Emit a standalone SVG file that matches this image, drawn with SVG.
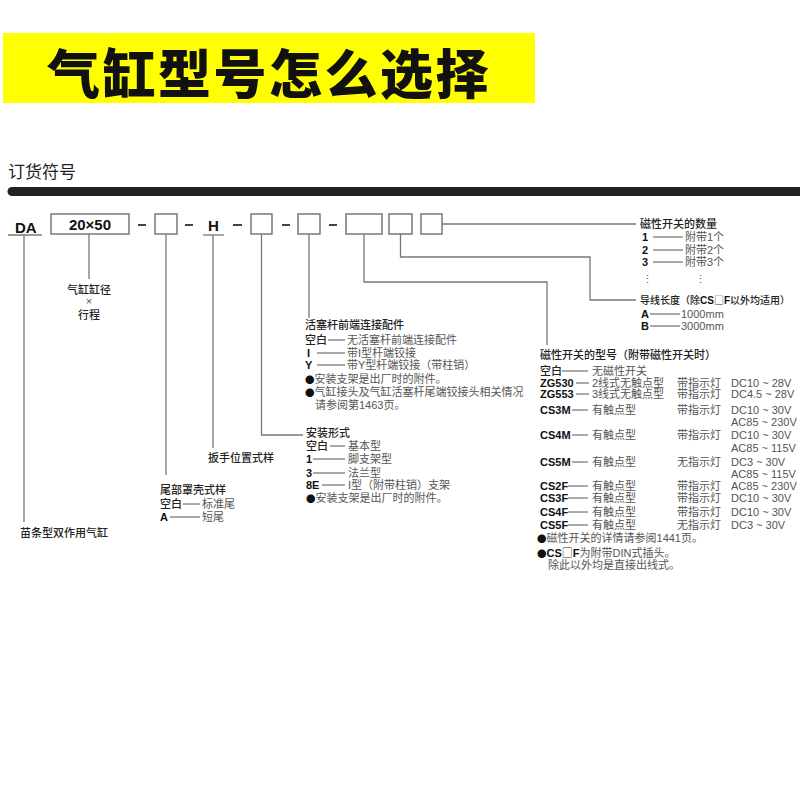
<svg xmlns="http://www.w3.org/2000/svg" width="800" height="800" viewBox="0 0 800 800">
<style>
text{font-family:"Liberation Sans","Noto Sans CJK SC",sans-serif;}
.lb{font-size:11px;fill:#222;font-weight:500;}
.vl{font-size:11px;fill:#555;}
.b{font-weight:bold;fill:#111;}
.sq{font-family:"Noto Sans CJK SC",sans-serif;font-weight:normal;fill:#333;}
.dot{font-family:"Noto Sans CJK SC",sans-serif;fill:#111;font-size:9.5px;}
.bx{fill:#fff;stroke:#777;stroke-width:1.5;}
.ln{fill:none;stroke:#777;stroke-width:1.3;}
.ds{stroke:#555;stroke-width:1;}
.hd{stroke:#444;stroke-width:2;}
.big{font-size:15px;font-weight:bold;fill:#111;}
</style>
<rect x="3" y="33" width="532" height="70" fill="#ffff00"/>
<text x="47" y="94" font-size="53" font-weight="900" letter-spacing="2.5" fill="#111" style="font-family:'Noto Sans CJK SC',sans-serif">气缸型号怎么选择</text>
<text x="8" y="178" font-size="17" fill="#222" style="font-family:'Noto Sans CJK SC',sans-serif">订货符号</text>
<line x1="12" y1="191.5" x2="805" y2="191.5" stroke="#222" stroke-width="9" stroke-linecap="round"/>

<g id="connectors">
<path class="ln" d="M24,235 V522"/>
<path class="ln" d="M89,234 V279"/>
<path class="ln" d="M166,234 V475"/>
<path class="ln" d="M213,235 V448"/>
<path class="ln" d="M261.5,234 V435 H303"/>
<path class="ln" d="M309,234 V318"/>
<path class="ln" d="M364,234 V282 H547 V345"/>
<path class="ln" d="M400.5,234 V257 H590 V300 H636"/>
<path class="ln" d="M442,224 H636"/>
</g>

<g id="code-row">
<text x="15" y="233" class="big">DA</text>
<line x1="8" y1="235" x2="42" y2="235" class="ln"/>
<rect x="51" y="214" width="78" height="20" class="bx"/>
<text x="90" y="230" class="big" text-anchor="middle">20×50</text>
<line x1="138" y1="225" x2="146" y2="225" class="hd"/>
<rect x="155" y="214" width="22" height="20" class="bx"/>
<line x1="185" y1="225" x2="193" y2="225" class="hd"/>
<text x="213.5" y="231" class="big" text-anchor="middle">H</text>
<line x1="203" y1="235" x2="224" y2="235" class="ln"/>
<line x1="233" y1="225" x2="242" y2="225" class="hd"/>
<rect x="251" y="214" width="21" height="20" class="bx"/>
<line x1="282" y1="225" x2="290" y2="225" class="hd"/>
<rect x="298" y="214" width="22" height="20" class="bx"/>
<line x1="329" y1="225" x2="337" y2="225" class="hd"/>
<rect x="346" y="214" width="36" height="20" class="bx"/>
<rect x="389" y="214" width="23" height="20" class="bx"/>
<rect x="421" y="214" width="21" height="20" class="bx"/>
</g>

<g id="bore-stroke">
<text x="89" y="294" class="lb" text-anchor="middle">气缸缸径</text>
<text x="89" y="305" class="vl" text-anchor="middle" font-size="9">×</text>
<text x="89" y="319" class="lb" text-anchor="middle">行程</text>
</g>

<g id="type">
<text x="20" y="537" class="lb">苗条型双作用气缸</text>
</g>

<g id="tail-cover">
<text x="160" y="494" class="lb">尾部罩壳式样</text>
<text x="160" y="508" class="lb">空白</text>
<line x1="183" y1="504" x2="200" y2="504" class="ds"/>
<text x="202" y="508" class="vl">标准尾</text>
<text x="160" y="521" class="lb b">A</text>
<line x1="170" y1="517" x2="200" y2="517" class="ds"/>
<text x="202" y="521" class="vl">短尾</text>
</g>

<g id="wrench">
<text x="208" y="462" class="lb">扳手位置式样</text>
</g>

<g id="mounting">
<text x="306" y="437" class="lb">安装形式</text>
<text x="306" y="450" class="lb">空白</text>
<line x1="330" y1="446" x2="345" y2="446" class="ds"/>
<text x="348" y="450" class="vl">基本型</text>
<text x="306" y="463" class="lb b">1</text>
<line x1="313" y1="459" x2="345" y2="459" class="ds"/>
<text x="348" y="463" class="vl">脚支架型</text>
<text x="306" y="477" class="lb b">3</text>
<line x1="313" y1="473" x2="345" y2="473" class="ds"/>
<text x="348" y="477" class="vl">法兰型</text>
<text x="306" y="489" class="lb b">8E</text>
<line x1="322" y1="485" x2="345" y2="485" class="ds"/>
<text x="348" y="489" class="vl">I型（附带柱销）支架</text>
<text x="306" y="502" class="vl"><tspan class="dot">●</tspan>安装支架是出厂时的附件。</text>
</g>

<g id="rod-end">
<text x="305" y="329" class="lb">活塞杆前端连接配件</text>
<text x="305" y="344" class="lb">空白</text>
<line x1="328" y1="340" x2="345" y2="340" class="ds"/>
<text x="347" y="344" class="vl">无活塞杆前端连接配件</text>
<text x="307" y="357" class="lb b">I</text>
<line x1="317" y1="353" x2="345" y2="353" class="ds"/>
<text x="347" y="357" class="vl">带I型杆端铰接</text>
<text x="305" y="369" class="lb b">Y</text>
<line x1="317" y1="365" x2="345" y2="365" class="ds"/>
<text x="347" y="369" class="vl">带Y型杆端铰接（带柱销）</text>
<text x="305" y="382.5" class="vl"><tspan class="dot">●</tspan>安装支架是出厂时的附件。</text>
<text x="305" y="396" class="vl"><tspan class="dot">●</tspan>气缸接头及气缸活塞杆尾端铰接头相关情况</text>
<text x="315" y="409" class="vl">请参阅第1463页。</text>
</g>

<g id="switch-qty">
<text x="640" y="228" class="lb">磁性开关的数量</text>
<text x="642" y="241" class="lb b">1</text>
<line x1="653" y1="237" x2="683" y2="237" class="ds"/>
<text x="685" y="241" class="vl">附带1个</text>
<text x="642" y="254" class="lb b">2</text>
<line x1="653" y1="250" x2="683" y2="250" class="ds"/>
<text x="685" y="254" class="vl">附带2个</text>
<text x="642" y="266" class="lb b">3</text>
<line x1="653" y1="262" x2="683" y2="262" class="ds"/>
<text x="685" y="266" class="vl">附带3个</text>
<text x="642" y="283" class="vl">⋮</text>
<text x="695" y="283" class="vl">⋮</text>
</g>

<g id="lead-length">
<text x="640" y="304" class="lb" style="font-size:10px">导线长度（除<tspan class="b">CS</tspan><tspan class="sq">□</tspan><tspan class="b">F</tspan>以外均适用）</text>
<text x="641" y="318" class="lb b">A</text>
<line x1="650" y1="314" x2="680" y2="314" class="ds"/>
<text x="681" y="318" class="vl">1000mm</text>
<text x="641" y="330" class="lb b">B</text>
<line x1="650" y1="326" x2="680" y2="326" class="ds"/>
<text x="681" y="330" class="vl">3000mm</text>
</g>

<g id="switch-type">
<text x="540" y="359" class="lb">磁性开关的型号（附带磁性开关时）</text>
<text x="540" y="375" class="lb">空白</text>
<line x1="562" y1="371" x2="588" y2="371" class="ds"/>
<text x="592" y="375" class="vl">无磁性开关</text>

<text x="540" y="387" class="lb b">ZG530</text>
<line x1="576" y1="383" x2="589" y2="383" class="ds"/>
<text x="592" y="387" class="vl">2线式无触点型</text>
<text x="677" y="387" class="vl">带指示灯</text>
<text x="731" y="387" class="vl">DC10 ~ 28V</text>

<text x="540" y="398" class="lb b">ZG553</text>
<line x1="576" y1="394" x2="589" y2="394" class="ds"/>
<text x="592" y="398" class="vl">3线式无触点型</text>
<text x="677" y="398" class="vl">带指示灯</text>
<text x="731" y="398" class="vl">DC4.5 ~ 28V</text>

<text x="540" y="414" class="lb b">CS3M</text>
<line x1="572" y1="410" x2="588" y2="410" class="ds"/>
<text x="592" y="414" class="vl">有触点型</text>
<text x="677" y="414" class="vl">带指示灯</text>
<text x="731" y="414" class="vl">DC10 ~ 30V</text>
<text x="731" y="426" class="vl">AC85 ~ 230V</text>

<text x="540" y="439" class="lb b">CS4M</text>
<line x1="572" y1="435" x2="588" y2="435" class="ds"/>
<text x="592" y="439" class="vl">有触点型</text>
<text x="677" y="439" class="vl">带指示灯</text>
<text x="731" y="439" class="vl">DC10 ~ 30V</text>
<text x="731" y="452" class="vl">AC85 ~ 115V</text>

<text x="540" y="466" class="lb b">CS5M</text>
<line x1="572" y1="462" x2="588" y2="462" class="ds"/>
<text x="592" y="466" class="vl">有触点型</text>
<text x="677" y="466" class="vl">无指示灯</text>
<text x="731" y="466" class="vl">DC3 ~ 30V</text>
<text x="731" y="478" class="vl">AC85 ~ 115V</text>

<text x="540" y="490" class="lb b">CS2F</text>
<line x1="568" y1="486" x2="588" y2="486" class="ds"/>
<text x="592" y="490" class="vl">有触点型</text>
<text x="677" y="490" class="vl">带指示灯</text>
<text x="731" y="490" class="vl">AC85 ~ 230V</text>

<text x="540" y="502" class="lb b">CS3F</text>
<line x1="568" y1="498" x2="588" y2="498" class="ds"/>
<text x="592" y="502" class="vl">有触点型</text>
<text x="677" y="502" class="vl">带指示灯</text>
<text x="731" y="502" class="vl">DC10 ~ 30V</text>

<text x="540" y="516" class="lb b">CS4F</text>
<line x1="568" y1="512" x2="588" y2="512" class="ds"/>
<text x="592" y="516" class="vl">有触点型</text>
<text x="677" y="516" class="vl">带指示灯</text>
<text x="731" y="516" class="vl">DC10 ~ 30V</text>

<text x="540" y="529" class="lb b">CS5F</text>
<line x1="568" y1="525" x2="588" y2="525" class="ds"/>
<text x="592" y="529" class="vl">有触点型</text>
<text x="677" y="529" class="vl">无指示灯</text>
<text x="731" y="529" class="vl">DC3 ~ 30V</text>

<text x="537" y="542" class="vl"><tspan class="dot">●</tspan>磁性开关的详情请参阅1441页。</text>
<text x="537" y="557" class="vl"><tspan class="dot">●</tspan><tspan class="b">CS</tspan><tspan class="sq">□</tspan><tspan class="b">F</tspan>为附带DIN式插头。</text>
<text x="548" y="569" class="vl">除此以外均是直接出线式。</text>
</g>
</svg>
